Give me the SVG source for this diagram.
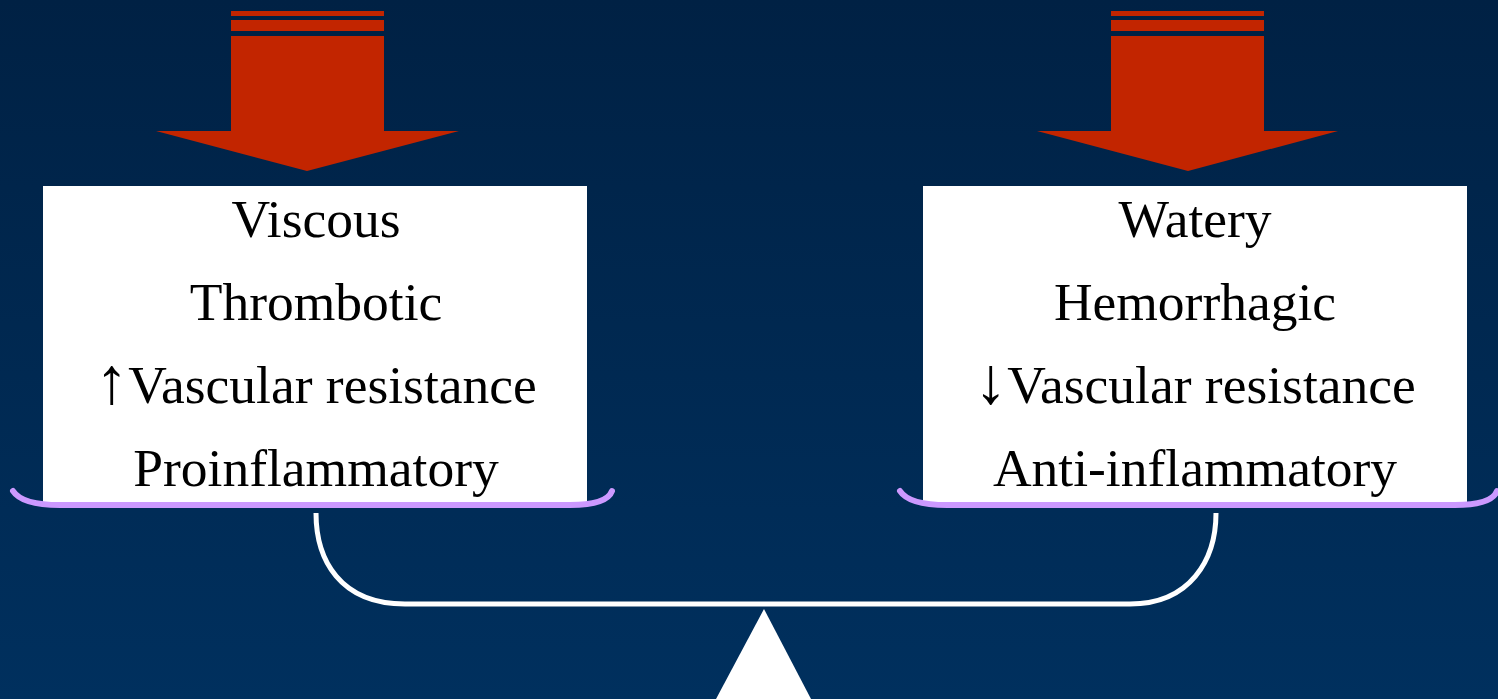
<svg xmlns="http://www.w3.org/2000/svg" width="1498" height="699" viewBox="0 0 1498 699">
  <defs>
    <linearGradient id="bg" x1="0" y1="0" x2="0" y2="1">
      <stop offset="0" stop-color="#002144"/>
      <stop offset="1" stop-color="#00305e"/>
    </linearGradient>
    <style>
      .arrow { fill: #c22500; }
      .box { fill: #ffffff; }
      .pan { fill: none; stroke: #cc99ff; stroke-width: 6; stroke-linecap: round; }
      .beam { fill: none; stroke: #ffffff; stroke-width: 5; }
      .lbl { font-family: "Liberation Serif", "Times New Roman", serif; font-size: 53.5px; fill: #000000; text-anchor: middle; }
      .sym { font-size: 66px; }
    </style>
  </defs>
  <rect x="0" y="0" width="1498" height="699" fill="url(#bg)"/>

  <g id="arrow-left">
    <rect class="arrow" x="231" y="11" width="153" height="5"/>
    <rect class="arrow" x="231" y="20" width="153" height="11"/>
    <path class="arrow" d="M231,36 H384 V131 H459 L307,171 L156,131 H231 Z"/>
  </g>
  <g id="arrow-right">
    <rect class="arrow" x="1111" y="11" width="153" height="5"/>
    <rect class="arrow" x="1111" y="20" width="153" height="11"/>
    <path class="arrow" d="M1111,36 H1264 V131 H1338 L1188,171 L1037,131 H1111 Z"/>
  </g>

  <g id="connectors">
    <path class="beam" d="M316,513 C316,560 340,604 405,604 H1130 C1190,604 1216,560 1216,513"/>
  </g>

  <g id="pan-left">
    <rect class="box" x="43" y="186" width="544" height="316"/>
    <path class="pan" d="M13,491 C20,502 40,505 60,505 H570 C590,505 608,502 612,491"/>
    <text class="lbl" x="316" y="237">Viscous</text>
    <text class="lbl" x="316" y="320">Thrombotic</text>
    <text class="lbl" x="316" y="403"><tspan class="sym">↑</tspan>Vascular resistance</text>
    <text class="lbl" x="316" y="486">Proinflammatory</text>
  </g>
  <g id="pan-right">
    <rect class="box" x="923" y="186" width="544" height="316"/>
    <path class="pan" d="M900,491 C907,502 927,505 947,505 H1455 C1475,505 1493,502 1497,491"/>
    <text class="lbl" x="1195" y="237">Watery</text>
    <text class="lbl" x="1195" y="320">Hemorrhagic</text>
    <text class="lbl" x="1195" y="403"><tspan class="sym">↓</tspan>Vascular resistance</text>
    <text class="lbl" x="1195" y="486">Anti-inflammatory</text>
  </g>

  <g id="fulcrum">
    <path d="M764,609 L811,699 L716,699 Z" fill="#ffffff"/>
  </g>
</svg>
